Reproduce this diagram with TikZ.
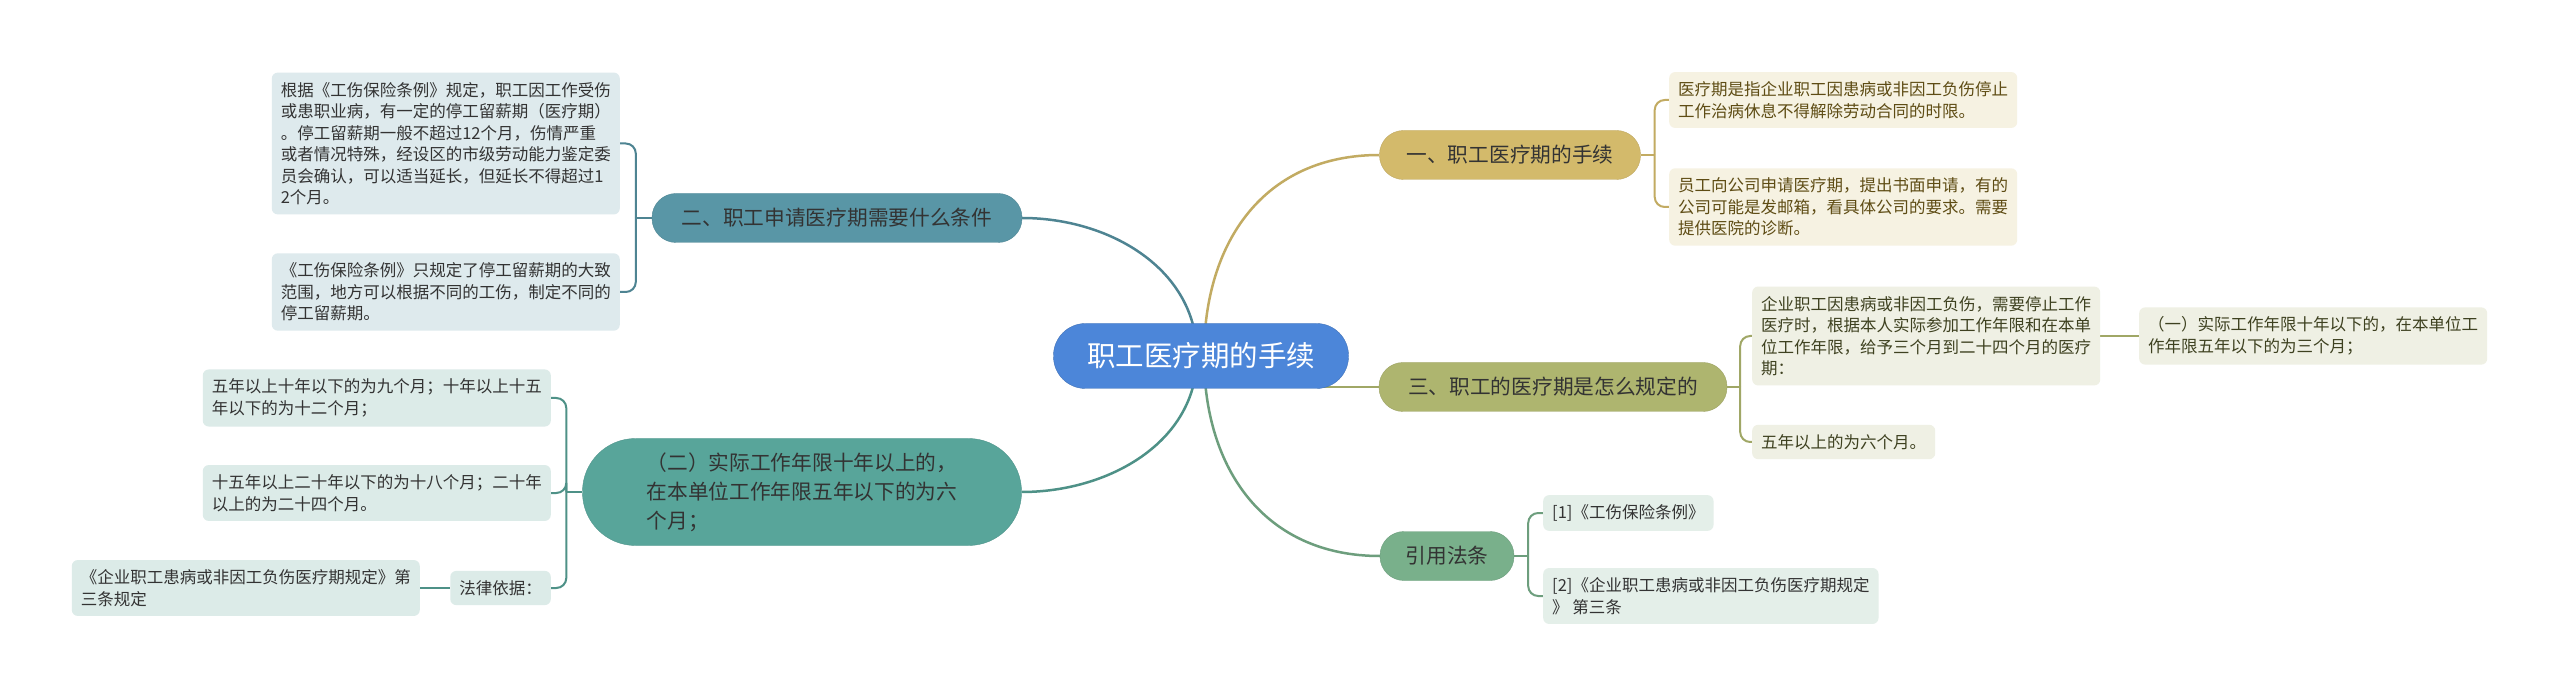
\documentclass[tikz,border=0pt]{standalone}
\usepackage{fontspec}
\setmainfont{Noto Sans CJK SC}
\usetikzlibrary{backgrounds}

\definecolor{rootblue}{HTML}{4C86D9}
\definecolor{goldbr}{HTML}{D3BA6B}
\definecolor{goldbox}{HTML}{F6F2E2}
\definecolor{goldtxt}{HTML}{5E4C14}
\definecolor{tealbr}{HTML}{5996A6}
\definecolor{tealbox}{HTML}{DEEAED}
\definecolor{olivebr}{HTML}{AEB56F}
\definecolor{olivebox}{HTML}{EFF0E4}
\definecolor{olivetxt}{HTML}{3E4120}
\definecolor{greenbr}{HTML}{79B08B}
\definecolor{greenbox}{HTML}{E4EFE9}
\definecolor{seabr}{HTML}{58A59A}
\definecolor{seabox}{HTML}{DCEBE8}
\definecolor{darktxt}{HTML}{333333}

\begin{document}
\begin{tikzpicture}[x=1pt, y=1pt,
      root/.style={rounded corners=32pt, fill=rootblue, draw=rootblue!85!black,
        minimum width=295pt, minimum height=65pt, inner sep=0pt, text=white,
        font=\fontsize{28.5}{34}\selectfont},
      branch/.style={rounded corners=24pt, minimum height=49pt, inner sep=0pt,
        text=darktxt, font=\fontsize{20.7}{29}\selectfont},
      leaf/.style={rounded corners=6pt, inner xsep=9pt, inner ysep=9.5pt,
        align=left, text=darktxt, font=\fontsize{16.5}{21.5}\selectfont},
      link/.style={line width=2.5pt},
      fork/.style={line width=2pt, rounded corners=10pt}
    ]
      % centre and main topics
      \node[root] (root) at (1201,-356) {职工医疗期的手续};
      \node[branch, fill=goldbr, draw=goldbr!90!black, minimum width=261pt] (b1) at (1510,-155) {一、职工医疗期的手续};
      \node[branch, fill=tealbr, draw=tealbr!90!black, minimum width=370pt] (b2) at (837,-218) {二、职工申请医疗期需要什么条件};
      \node[branch, fill=olivebr, draw=olivebr!90!black, minimum width=348pt] (b3) at (1553,-387) {三、职工的医疗期是怎么规定的};
      \node[branch, fill=greenbr, draw=greenbr!90!black, minimum width=134pt] (b4) at (1447,-556) {引用法条};
      \node[branch, fill=seabr, draw=seabr!90!black, minimum width=439pt, minimum height=107pt,
        rounded corners=53pt, align=left] (b5) at (802,-492) {（二）实际工作年限十年以上的，\\在本单位工作年限五年以下的为六\\个月；};

      % leaves on the right
      \node[leaf, fill=goldbox, text=goldtxt, anchor=west] (c1a) at (1669,-100) {医疗期是指企业职工因患病或非因工负伤停止\\工作治病休息不得解除劳动合同的时限。};
      \node[leaf, fill=goldbox, text=goldtxt, anchor=west] (c1b) at (1669,-207) {员工向公司申请医疗期，提出书面申请，有的\\公司可能是发邮箱，看具体公司的要求。需要\\提供医院的诊断。};
      \node[leaf, fill=olivebox, text=olivetxt, anchor=west] (c3a) at (1752,-336) {企业职工因患病或非因工负伤，需要停止工作\\医疗时，根据本人实际参加工作年限和在本单\\位工作年限，给予三个月到二十四个月的医疗\\期：};
      \node[leaf, fill=olivebox, text=olivetxt, anchor=west] (c3a1) at (2139,-336) {（一）实际工作年限十年以下的，在本单位工\\作年限五年以下的为三个月；};
      \node[leaf, fill=olivebox, text=olivetxt, anchor=west] (c3b) at (1752,-442) {五年以上的为六个月。};
      \node[leaf, fill=greenbox, anchor=west] (c4a) at (1543,-513) {[1]《工伤保险条例》};
      \node[leaf, fill=greenbox, anchor=west] (c4b) at (1543,-596) {[2]《企业职工患病或非因工负伤医疗期规定\\》 第三条};

      % leaves on the left
      \node[leaf, fill=tealbox, anchor=east] (c2a) at (620,-143.5) {根据《工伤保险条例》规定，职工因工作受伤\\或患职业病，有一定的停工留薪期（医疗期）\\。停工留薪期一般不超过12个月，伤情严重\\或者情况特殊，经设区的市级劳动能力鉴定委\\员会确认，可以适当延长，但延长不得超过1\\2个月。};
      \node[leaf, fill=tealbox, anchor=east] (c2b) at (620,-292) {《工伤保险条例》只规定了停工留薪期的大致\\范围，地方可以根据不同的工伤，制定不同的\\停工留薪期。};
      \node[leaf, fill=seabox, anchor=east] (c5a) at (551,-398) {五年以上十年以下的为九个月；十年以上十五\\年以下的为十二个月；};
      \node[leaf, fill=seabox, anchor=east] (c5b) at (551,-493) {十五年以上二十年以下的为十八个月；二十年\\以上的为二十四个月。};
      \node[leaf, fill=seabox, anchor=east] (c5c) at (551,-588) {法律依据：};
      \node[leaf, fill=seabox, anchor=east] (c5c1) at (420,-588) {《企业职工患病或非因工负伤医疗期规定》第\\三条规定};

      \begin{pgfonlayer}{background}
        \fill[white] (0,0) rectangle (2560,-700);
        % centre to topics
        \draw[link, goldbr!92!black] ([xshift=3pt]root.center) to[out=90, in=180, looseness=1.1] (b1.west);
        \draw[link, tealbr!88!black] ([xshift=-4pt]root.center) to[out=90, in=0] (b2.east);
        \draw[link, olivebr!92!black] (root.center |- b3.west) -- (b3.west);
        \draw[link, greenbr!90!black] ([xshift=3pt]root.center) to[out=-90, in=180, looseness=1.1] (b4.west);
        \draw[link, seabr!88!black] ([xshift=-4pt]root.center) to[out=-90, in=0] (b5.east);

        % topics to leaves
        \draw[fork, goldbr!92!black] (b1.east) -- ++(14,0) coordinate (j1);
        \foreach \c in {c1a, c1b} \draw[fork, goldbr!92!black] (j1) |- (\c.west);
        \draw[fork, tealbr!88!black] (b2.west) -- ++(-16,0) coordinate (j2);
        \foreach \c in {c2a, c2b} \draw[fork, tealbr!88!black] (j2) |- (\c.east);
        \draw[fork, olivebr!92!black] (b3.east) -- ++(13,0) coordinate (j3);
        \foreach \c in {c3a, c3b} \draw[fork, olivebr!92!black] (j3) |- (\c.west);
        \draw[fork, olivebr!92!black] (c3a.east) -- (c3a1.west);
        \draw[fork, greenbr!90!black] (b4.east) -- ++(14,0) coordinate (j4);
        \foreach \c in {c4a, c4b} \draw[fork, greenbr!90!black] (j4) |- (\c.west);
        \draw[fork, seabr!88!black] (b5.west) -- ++(-16,0) coordinate (j5);
        \foreach \c in {c5a, c5b, c5c} \draw[fork, seabr!88!black] (j5) |- (\c.east);
        \draw[fork, seabr!88!black] (c5c.west) -- (c5c1.east);
      \end{pgfonlayer}
      \useasboundingbox (0,0) rectangle (2560,-700);
    \end{tikzpicture}
\end{document}
